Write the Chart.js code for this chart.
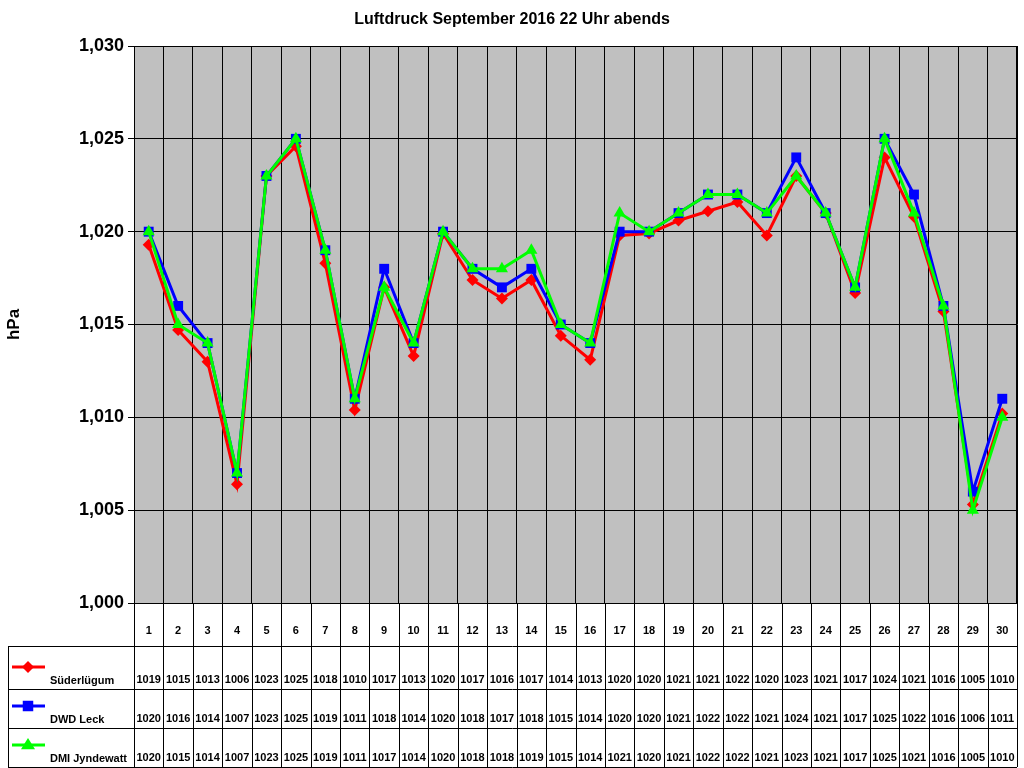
<!DOCTYPE html>
<html><head><meta charset="utf-8">
<script src="https://cdn.jsdelivr.net/npm/chart.js@4"></script>
<style>html,body{margin:0;padding:0;background:#fff}</style>
</head><body>
<canvas id="c" width="1024" height="768" style="width:1024px;height:768px"></canvas>
<script>
const days = ['1','2','3','4','5','6','7','8','9','10','11','12','13','14','15','16','17','18','19','20','21','22','23','24','25','26','27','28','29','30'];
const suederluegum = [1019.3,1014.7,1013.0,1006.4,1023.0,1024.6,1018.3,1010.4,1017.0,1013.3,1019.9,1017.4,1016.4,1017.4,1014.4,1013.1,1019.8,1019.9,1020.6,1021.1,1021.6,1019.8,1023.0,1021.0,1016.7,1024.0,1020.8,1015.7,1005.3,1010.2];
const suederluegumTable = [1019,1015,1013,1006,1023,1025,1018,1010,1017,1013,1020,1017,1016,1017,1014,1013,1020,1020,1021,1021,1022,1020,1023,1021,1017,1024,1021,1016,1005,1010];
const dwdLeck = [1020,1016,1014,1007,1023,1025,1019,1011,1018,1014,1020,1018,1017,1018,1015,1014,1020,1020,1021,1022,1022,1021,1024,1021,1017,1025,1022,1016,1006,1011];
const dmiJyndewatt = [1020,1015,1014,1007,1023,1025,1019,1011,1017,1014,1020,1018,1018,1019,1015,1014,1021,1020,1021,1022,1022,1021,1023,1021,1017,1025,1021,1016,1005,1010];
const seriesNames = ['Süderlügum','DWD Leck','DMI Jyndewatt'];
const tableRows = [suederluegumTable, dwdLeck, dmiJyndewatt];
const colors = ['#ff0000','#0000ff','#00ff00'];
const styles = ['rectRot','rect','triangle'];
const radii = [6,7,7];

const FONT = 'Arial, "Liberation Sans", sans-serif';

function drawMarker(ctx, style, x, y, r, color){
  ctx.fillStyle = color;
  ctx.beginPath();
  if(style==='rectRot'){ctx.moveTo(x,y-r);ctx.lineTo(x+r,y);ctx.lineTo(x,y+r);ctx.lineTo(x-r,y);}
  else if(style==='rect'){ctx.rect(x-r*0.75,y-r*0.75,r*1.5,r*1.5);}
  else {ctx.moveTo(x,y-r);ctx.lineTo(x+r,y+r*0.6);ctx.lineTo(x-r,y+r*0.6);}
  ctx.closePath();ctx.fill();
}

const tablePlugin = {
  id:'tbl',
  beforeDraw(chart){
    const a = chart.chartArea, ctx = chart.ctx;
    ctx.save();ctx.fillStyle='#c0c0c0';ctx.fillRect(a.left,a.top,a.right-a.left,a.bottom-a.top);ctx.restore();
  },
  afterDraw(chart){
    const ctx = chart.ctx, a = chart.chartArea, xs = chart.scales.x;
    ctx.save();
    // title
    ctx.fillStyle='#000';ctx.font='bold 16px '+FONT;ctx.textAlign='center';ctx.textBaseline='middle';
    ctx.fillText('Luftdruck September 2016 22 Uhr abends', 512, 20);
    // plot border
    ctx.strokeStyle='#000';ctx.lineWidth=1;
    ctx.strokeRect(a.left+0.5,a.top+0.5,a.right-a.left-1,a.bottom-a.top);
    const step = xs.getPixelForValue(1)-xs.getPixelForValue(0);
    const rowTops=[646,689,728,767];
    // vertical lines
    ctx.beginPath();
    for(let i=0;i<=days.length;i++){
      const x=Math.round(xs.getPixelForValue(0)-step/2+i*step)+0.5;
      ctx.moveTo(x,a.bottom);ctx.lineTo(x,767);
    }
    // horizontal lines
    rowTops.forEach(y=>{ctx.moveTo(8,y+0.5);ctx.lineTo(a.right,y+0.5);});
    ctx.moveTo(8.5,646);ctx.lineTo(8.5,767);
    ctx.stroke();
    // day labels
    ctx.font='bold 11px '+FONT;ctx.textAlign='center';ctx.textBaseline='middle';
    days.forEach((d,i)=>ctx.fillText(d,xs.getPixelForValue(i),631));
    // rows
    for(let r=0;r<3;r++){
      const yb=rowTops[r+1]-9;
      ctx.font='bold 11px '+FONT;ctx.textAlign='center';ctx.textBaseline='middle';ctx.fillStyle='#000';
      tableRows[r].forEach((v,i)=>ctx.fillText(String(v),xs.getPixelForValue(i),yb));
      ctx.strokeStyle=colors[r];ctx.lineWidth=3;
      ctx.beginPath();ctx.moveTo(12,yb-13);ctx.lineTo(45,yb-13);ctx.stroke();
      drawMarker(ctx,styles[r],28,yb-13,radii[r],colors[r]);
      ctx.fillStyle='#000';ctx.textAlign='left';ctx.font='bold 11px '+FONT;
      ctx.fillText(seriesNames[r],50,yb+1);
      ctx.strokeStyle='#000';ctx.lineWidth=1;
    }
    ctx.restore();
  }
};

const datasets = [suederluegum, dwdLeck, dmiJyndewatt].map((d,i)=>({
  label: seriesNames[i], data: d, borderColor: colors[i], backgroundColor: colors[i],
  borderWidth: 3, pointStyle: styles[i], pointRadius: radii[i], pointHoverRadius: radii[i],
  pointBorderWidth: 0, tension: 0, order: 2-i
}));

new Chart(document.getElementById('c'), {
  type:'line',
  data:{labels:days, datasets},
  options:{
    responsive:false, animation:false, devicePixelRatio:1,
    layout:{padding:{top:46,bottom:165,right:6,left:0}},
    plugins:{legend:{display:false},tooltip:{enabled:false},title:{display:false}},
    scales:{
      x:{offset:true, grid:{offset:true,color:'#000',drawTicks:false}, border:{display:false},
         ticks:{display:false}, afterFit(s){s.height=0;}},
      y:{min:1000,max:1030, grid:{color:'#000',drawTicks:true,tickLength:6}, border:{color:'#000'},
         ticks:{stepSize:5,color:'#000',font:{family:FONT,size:18,weight:'bold'},padding:4},
         title:{display:true,text:'hPa',color:'#000',font:{family:FONT,size:17,weight:'bold'}},
         afterFit(s){s.width=134;}}
    }
  },
  plugins:[tablePlugin]
});
</script>
</body></html>
